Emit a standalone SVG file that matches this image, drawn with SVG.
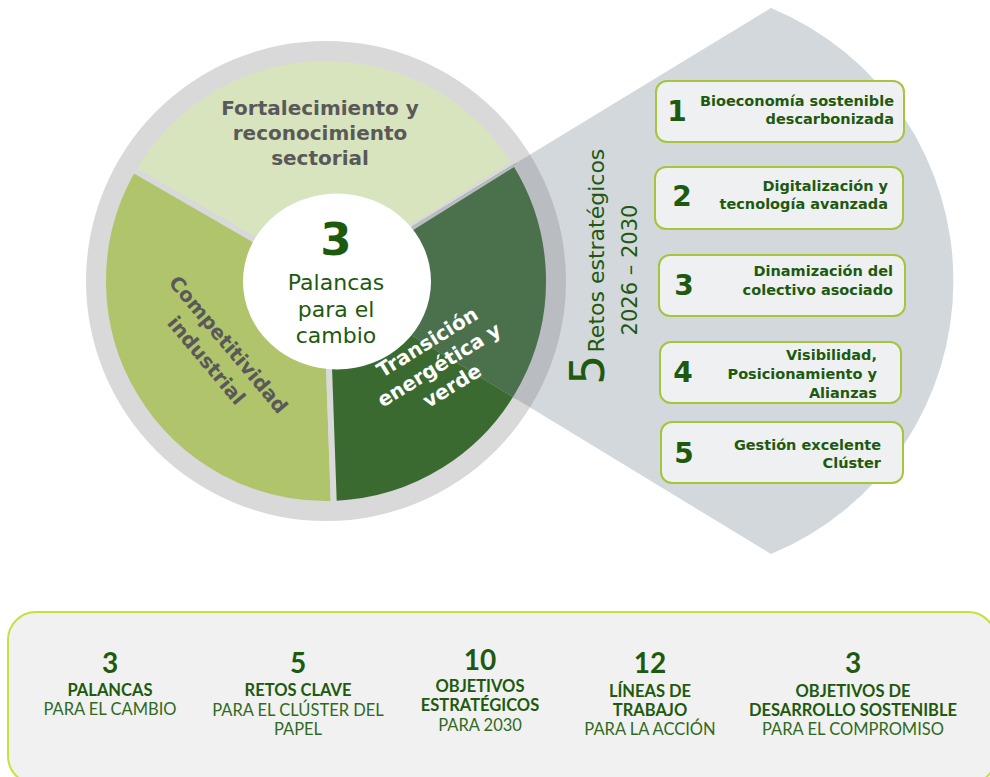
<svg xmlns="http://www.w3.org/2000/svg" width="990" height="777" viewBox="0 0 990 777">
  <defs>
    <style>
      .pop { font-family: "DejaVu Sans", "Noto Sans", sans-serif; }
      .b { font-weight: 700; }
      .g { fill: #595959; }
      .d { fill: #1e5a0e; }
      .w { fill: #ffffff; }
      .box { fill: #eef0f2; stroke: #a6c43c; stroke-width: 2; }
      .num { font-size: 28px; font-weight: 700; text-anchor: middle; }
      .bl { font-size: 14.5px; font-weight: 700; text-anchor: end; }
      .sum { font-family: Lato, "Liberation Sans", sans-serif; fill: #1e5a0e; text-anchor: middle; }
      .sn { font-size: 28px; font-weight: 700; }
      .sb { font-size: 16.5px; font-weight: 700; }
      .sl { font-size: 16.5px; font-weight: 400; fill: #2f6a22; }
      .slice { stroke-width: 6; stroke-linejoin: round; }
    </style>
    <clipPath id="fanClip">
      <path d="M322,281 L771,8 A295.5,295.5 0 0 1 771,554 Z"/>
    </clipPath>
  </defs>

  <!-- grey fan holding the five challenges -->
  <path id="fan" d="M322,281 L771,8 A295.5,295.5 0 0 1 771,554 Z" fill="#d3d8dc"/>

  <!-- three-lever wheel -->
  <g id="wheel">
    <circle cx="326" cy="281" r="240" fill="#d9d9d9"/>
    <path id="slice-top" class="slice" d="M326,281 L132.9,169.5 A223,223 0 0 1 515.1,162.8 Z" fill="#d8e4bd" stroke="#d9d9d9"/>
    <path id="slice-left" class="slice" d="M326,281 L333.8,503.9 A223,223 0 0 1 132.9,169.5 Z" fill="#b0c56b" stroke="#d9d9d9"/>
    <path id="slice-right" class="slice" d="M326,281 L515.1,162.8 A223,223 0 0 1 333.8,503.9 Z" fill="#3b6a30" stroke="#d9d9d9"/>
    <!-- part of the wheel seen through the fan -->
    <g clip-path="url(#fanClip)">
      <circle cx="326" cy="281" r="240" fill="#b9bdc1"/>
      <path class="slice" d="M326,281 L515.1,162.8 A223,223 0 0 1 333.8,503.9 Z" fill="#4a714c" stroke="#b9bdc1"/>
    </g>
    <ellipse id="hub" cx="337" cy="281.5" rx="94" ry="88" fill="#ffffff"/>
  </g>

  <g id="hub-label" class="pop d" text-anchor="middle">
    <text x="336" y="255" font-size="45" font-weight="700">3</text>
    <text x="336" y="290" font-size="22">Palancas</text>
    <text x="336" y="317" font-size="22">para el</text>
    <text x="336" y="343" font-size="22">cambio</text>
  </g>

  <g id="lever-1" class="pop b g" text-anchor="middle" font-size="20">
    <text x="320" y="115">Fortalecimiento y</text>
    <text x="320" y="140">reconocimiento</text>
    <text x="320" y="165">sectorial</text>
  </g>

  <g id="lever-2" class="pop b g" text-anchor="middle" font-size="20" transform="translate(223,349) rotate(50)">
    <text x="0" y="0">Competitividad</text>
    <text x="-2" y="27">industrial</text>
  </g>

  <g id="lever-3" class="pop b w" text-anchor="middle" font-size="20" transform="translate(431,348) rotate(-31.7)">
    <text x="0" y="0">Transición</text>
    <text x="-2" y="25.5">energética y</text>
    <text x="-2" y="50">verde</text>
  </g>

  <!-- vertical heading of the fan -->
  <g id="challenges-title" class="pop d" transform="translate(604,385) rotate(-90)">
    <text x="0" y="0"><tspan font-size="48" font-weight="400">5</tspan><tspan font-size="22" dx="2">Retos estratégicos</tspan></text>
    <text x="115" y="33" font-size="21" text-anchor="middle">2026 – 2030</text>
  </g>

  <!-- challenge boxes -->
  <g id="reto-1" class="pop d">
    <rect class="box" x="656" y="81" width="248" height="61" rx="11"/>
    <text class="num" x="677" y="121">1</text>
    <text class="bl" x="894" y="106">Bioeconomía sostenible</text>
    <text class="bl" x="894" y="124">descarbonizada</text>
  </g>
  <g id="reto-2" class="pop d">
    <rect class="box" x="655" y="167" width="248" height="62" rx="11"/>
    <text class="num" x="682" y="206">2</text>
    <text class="bl" x="888" y="191">Digitalización y</text>
    <text class="bl" x="888" y="209">tecnología avanzada</text>
  </g>
  <g id="reto-3" class="pop d">
    <rect class="box" x="659" y="255" width="246" height="61" rx="11"/>
    <text class="num" x="684" y="295">3</text>
    <text class="bl" x="893" y="276">Dinamización del</text>
    <text class="bl" x="893" y="295">colectivo asociado</text>
  </g>
  <g id="reto-4" class="pop d">
    <rect class="box" x="660" y="342" width="241" height="61" rx="11"/>
    <text class="num" x="683" y="382">4</text>
    <text class="bl" x="877" y="360">Visibilidad,</text>
    <text class="bl" x="877" y="379">Posicionamiento y</text>
    <text class="bl" x="877" y="398">Alianzas</text>
  </g>
  <g id="reto-5" class="pop d">
    <rect class="box" x="661" y="422" width="242" height="61" rx="11"/>
    <text class="num" x="684" y="463">5</text>
    <text class="bl" x="881" y="450">Gestión excelente</text>
    <text class="bl" x="881" y="468">Clúster</text>
  </g>

  <!-- summary strip -->
  <g id="summary">
    <rect x="8" y="612" width="988" height="172" rx="28" fill="#f1f1f1" stroke="#c8e03c" stroke-width="2"/>
    <g id="sum-palancas" class="sum">
      <text class="sn" x="110" y="673">3</text>
      <text class="sb" x="110" y="696">PALANCAS</text>
      <text class="sl" x="110" y="715">PARA EL CAMBIO</text>
    </g>
    <g id="sum-retos" class="sum">
      <text class="sn" x="298" y="673">5</text>
      <text class="sb" x="298" y="696">RETOS CLAVE</text>
      <text class="sl" x="298" y="716">PARA EL CLÚSTER DEL</text>
      <text class="sl" x="298" y="735">PAPEL</text>
    </g>
    <g id="sum-objetivos" class="sum">
      <text class="sn" x="480" y="670">10</text>
      <text class="sb" x="480" y="692">OBJETIVOS</text>
      <text class="sb" x="480" y="711">ESTRATÉGICOS</text>
      <text class="sl" x="480" y="731">PARA 2030</text>
    </g>
    <g id="sum-lineas" class="sum">
      <text class="sn" x="650" y="673">12</text>
      <text class="sb" x="650" y="697">LÍNEAS DE</text>
      <text class="sb" x="650" y="716">TRABAJO</text>
      <text class="sl" x="650" y="735">PARA LA ACCIÓN</text>
    </g>
    <g id="sum-ods" class="sum">
      <text class="sn" x="853" y="673">3</text>
      <text class="sb" x="853" y="697">OBJETIVOS DE</text>
      <text class="sb" x="853" y="716">DESARROLLO SOSTENIBLE</text>
      <text class="sl" x="853" y="735">PARA EL COMPROMISO</text>
    </g>
  </g>
</svg>
